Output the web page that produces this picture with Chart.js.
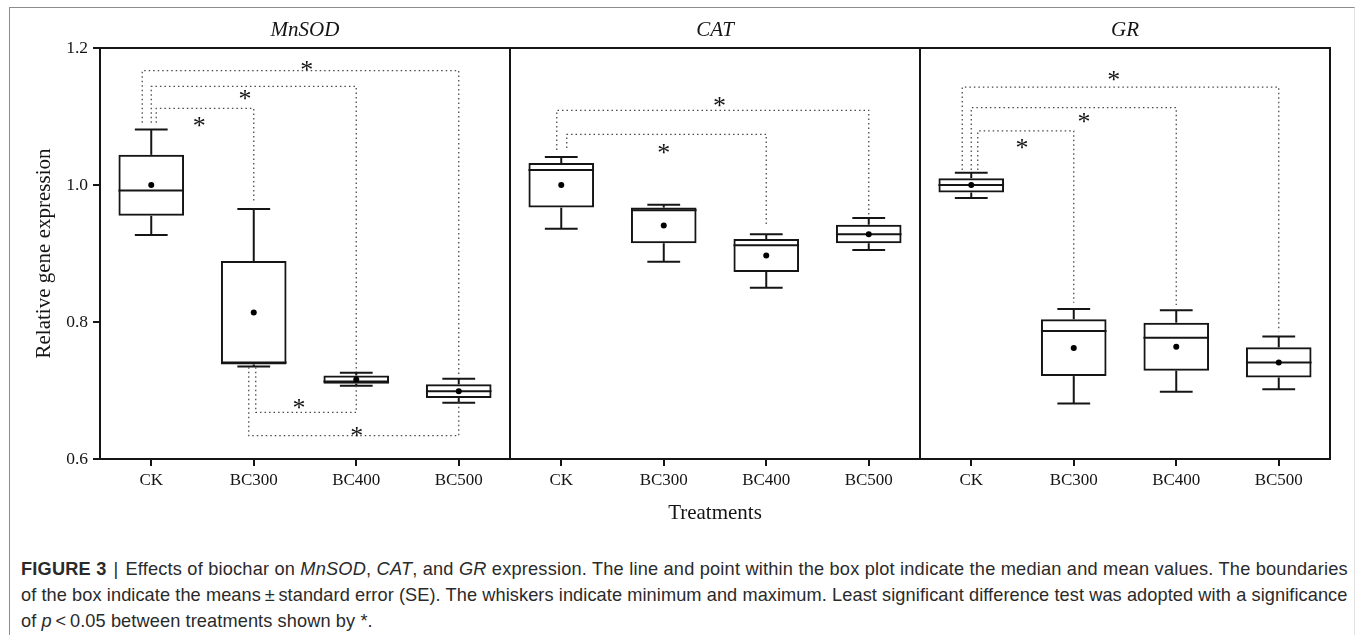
<!DOCTYPE html>
<html>
<head>
<meta charset="utf-8">
<title>Effects of biochar on MnSOD, CAT and GR expression</title>
<script src="https://cdn.jsdelivr.net/npm/chart.js@4.4.1/dist/chart.umd.min.js"></script>
<style>
  html, body { margin: 0; padding: 0; background: #fff; }
  body { width: 1355px; height: 635px; position: relative; overflow: hidden; }
  #frame {
    position: absolute; left: 9px; top: 7px; right: 0; bottom: -5px;
    border-left: 1px solid #8c8c8c; border-top: 1px solid #8c8c8c; border-right: 1px solid #e2e2e2;
  }
  #chart { position: absolute; left: 0; top: 0; }
  #caption {
    position: absolute; left: 21px; top: 556px; white-space: nowrap;
    font-family: "Liberation Sans", Arial, sans-serif; font-size: 18.2px; line-height: 26px; color: #2a2a2a;
  }
  #caption .sep { margin: 0 7px; }
  #caption .l1 { letter-spacing: 0.2px; }
  #caption .l2 { letter-spacing: 0.08px; }
  #caption .l3 { letter-spacing: 0.1px; }
</style>
</head>
<body>
<div id="frame"></div>
<canvas id="chart" width="1355" height="540"></canvas>
<div id="caption"><span class="l1"><b>FIGURE 3</b><span class="sep">|</span>Effects of biochar on <i>MnSOD</i>, <i>CAT</i>, and <i>GR</i> expression. The line and point within the box plot indicate the median and mean values. The boundaries</span><br><span class="l2">of the box indicate the means&#8201;±&#8201;standard error (SE). The whiskers indicate minimum and maximum. Least significant difference test was adopted with a significance</span><br><span class="l3">of <i>p</i>&#8201;&lt;&#8201;0.05 between treatments shown by *.</span></div>

<script>
// Treatments on the x axis and the three genes (one panel each)
const treatments = ['CK', 'BC300', 'BC400', 'BC500'];
const genes = ['MnSOD', 'CAT', 'GR'];

// MnSOD relative expression
const mnsodMin    = [0.927, 0.735, 0.707, 0.682];
const mnsodSeLow  = [0.955, 0.738, 0.710, 0.689];
const mnsodMedian = [0.992, 0.741, 0.713, 0.699];
const mnsodSeHigh = [1.044, 0.889, 0.722, 0.709];
const mnsodMax    = [1.081, 0.965, 0.726, 0.717];
const mnsodMean   = [1.000, 0.814, 0.716, 0.699];

// CAT relative expression
const catMin    = [0.936, 0.888, 0.850, 0.905];
const catSeLow  = [0.967, 0.915, 0.873, 0.915];
const catMedian = [1.022, 0.963, 0.912, 0.928];
const catSeHigh = [1.032, 0.967, 0.921, 0.942];
const catMax    = [1.041, 0.971, 0.928, 0.952];
const catMean   = [1.000, 0.941, 0.897, 0.928];

// GR relative expression
const grMin    = [0.981, 0.681, 0.698, 0.702];
const grSeLow  = [0.989, 0.721, 0.729, 0.719];
const grMedian = [1.000, 0.787, 0.777, 0.741];
const grSeHigh = [1.010, 0.804, 0.799, 0.763];
const grMax    = [1.018, 0.819, 0.817, 0.779];
const grMean   = [1.000, 0.762, 0.764, 0.741];

// y axis ticks
const yTicks = [0.6, 0.8, 1.0, 1.2];

// Significance brackets (LSD, p < 0.05), indices on the 12-slot axis:
// [from, to, bracket level, leg end at "from", leg end at "to"]
const mnsodPairs = [[0, 3, 1.167, 1.091, 0.720], [0, 2, 1.144, 1.091, 0.727], [0, 1, 1.112, 1.091, 0.976],
                    [1, 2, 0.668, 0.734, 0.707], [1, 3, 0.634, 0.734, 0.683]];
const catPairs   = [[4, 7, 1.109, 1.051, 0.954], [4, 6, 1.074, 1.054, 0.943]];
const grPairs    = [[8, 11, 1.143, 1.022, 0.786], [8, 10, 1.113, 1.022, 0.825], [8, 9, 1.079, 1.022, 0.828]];

// Asterisk marks: [axis position, value]
const mnsodStars = [[1.517, 1.175], [0.915, 1.133], [0.469, 1.094], [1.441, 0.682], [2.004, 0.641]];
const catStars   = [[5.545, 1.123], [5.000, 1.054]];
const grStars    = [[9.390, 1.160], [9.100, 1.100], [8.495, 1.062]];

// ---- drawing style ----
const INK = '#151515';
const SERIF = '"Liberation Serif", "Times New Roman", serif';
// horizontal nudge (px) of the left leg of each bracket so nested legs do not overlap
const legShift = [-9, 0, 5, 2, -5, -4.5, 5.5, -9, 0, 6.5];

// ---- assemble the 12-slot series ----
const join = (a, b, c) => a.concat(b, c);
const labels = genes.flatMap(() => treatments);
const lowAll = join(mnsodMin, catMin, grMin);
const seLowAll = join(mnsodSeLow, catSeLow, grSeLow);
const medAll = join(mnsodMedian, catMedian, grMedian);
const seHighAll = join(mnsodSeHigh, catSeHigh, grSeHigh);
const highAll = join(mnsodMax, catMax, grMax);
const meanAll = join(mnsodMean, catMean, grMean);
const pairsAll = join(mnsodPairs, catPairs, grPairs);
const starsAll = join(mnsodStars, catStars, grStars);

function line(ctx, x1, y1, x2, y2) {
  ctx.beginPath(); ctx.moveTo(x1, y1); ctx.lineTo(x2, y2); ctx.stroke();
}

const boxPlotExtras = {
  id: 'boxPlotExtras',
  beforeDatasetsDraw(chart) {
    const { ctx, chartArea: a, scales: { x, y } } = chart;
    const boxes = chart.getDatasetMeta(0).data;
    ctx.save();
    ctx.strokeStyle = INK;
    ctx.lineWidth = 2;
    ctx.lineCap = 'butt';

    // frame: top edge, right edge and panel dividers
    line(ctx, a.left - 1, a.top, a.right + 1, a.top);
    line(ctx, a.right, a.top, a.right, a.bottom);
    for (let k = 1; k < genes.length; k++) {
      const xd = (x.getPixelForValue(4 * k - 1) + x.getPixelForValue(4 * k)) / 2;
      line(ctx, xd, a.top, xd, a.bottom);
    }

    // whiskers, caps and medians
    labels.forEach((_, i) => {
      const cx = x.getPixelForValue(i);
      const half = boxes[i].width / 2;
      const cap = half * 0.5;
      const yMin = y.getPixelForValue(lowAll[i]);
      const yMax = y.getPixelForValue(highAll[i]);
      const yLo = y.getPixelForValue(seLowAll[i]);
      const yHi = y.getPixelForValue(seHighAll[i]);
      line(ctx, cx, yHi, cx, yMax);
      line(ctx, cx, yLo, cx, yMin);
      line(ctx, cx - cap, yMax, cx + cap, yMax);
      line(ctx, cx - cap, yMin, cx + cap, yMin);
      const ym = y.getPixelForValue(medAll[i]);
      line(ctx, cx - half, ym, cx + half, ym);
    });

    // significance brackets
    ctx.strokeStyle = '#4a4a4a';
    ctx.lineWidth = 1.3;
    ctx.setLineDash([1.5, 3]);
    pairsAll.forEach(([from, to, level, endFrom, endTo], j) => {
      const x1 = x.getPixelForValue(from) + legShift[j];
      const x2 = x.getPixelForValue(to);
      const yl = y.getPixelForValue(level);
      ctx.beginPath();
      ctx.moveTo(x1, y.getPixelForValue(endFrom));
      ctx.lineTo(x1, yl);
      ctx.lineTo(x2, yl);
      ctx.lineTo(x2, y.getPixelForValue(endTo));
      ctx.stroke();
    });
    ctx.setLineDash([]);

    // asterisks
    ctx.fillStyle = INK;
    ctx.font = '26px ' + SERIF;
    ctx.textAlign = 'center';
    ctx.textBaseline = 'alphabetic';
    const step = x.getPixelForValue(1) - x.getPixelForValue(0);
    starsAll.forEach(([sx, sv]) => {
      const px = x.getPixelForValue(0) + sx * step;
      ctx.fillText('*', px, y.getPixelForValue(sv) + 13);
    });

    // gene names above each panel
    ctx.font = 'italic 21px ' + SERIF;
    ctx.textBaseline = 'middle';
    genes.forEach((g, k) => {
      const cx = (x.getPixelForValue(4 * k) + x.getPixelForValue(4 * k + 3)) / 2;
      ctx.fillText(g, cx, 30);
    });
    ctx.restore();
  }
};

new Chart(document.getElementById('chart'), {
  type: 'bar',
  data: {
    labels: labels,
    datasets: [
      {
        type: 'bar',
        label: 'mean ± SE',
        data: seLowAll.map((v, i) => [v, seHighAll[i]]),
        backgroundColor: 'rgba(255,255,255,0)',
        borderColor: INK,
        borderWidth: 2,
        borderSkipped: false,
        barPercentage: 0.64,
        categoryPercentage: 1,
        order: 2
      },
      {
        type: 'line',
        label: 'mean',
        data: meanAll,
        showLine: false,
        pointRadius: 3,
        pointBackgroundColor: '#000',
        pointBorderWidth: 0,
        order: 1
      }
    ]
  },
  options: {
    responsive: false,
    animation: false,
    devicePixelRatio: 1,
    layout: { padding: { top: 48, right: 25, left: 0, bottom: 0 } },
    plugins: { legend: { display: false }, tooltip: { enabled: false } },
    scales: {
      x: {
        offset: true,
        grid: { offset: false, drawOnChartArea: false, drawTicks: true, tickLength: 7, color: INK, lineWidth: 2 },
        border: { display: true, color: INK, width: 2 },
        ticks: { font: { family: SERIF, size: 17 }, color: INK, padding: 4, maxRotation: 0, autoSkip: false },
        title: { display: true, text: 'Treatments', font: { family: SERIF, size: 21 }, color: INK, padding: { top: 0, bottom: 14 } },
        afterFit(s) { s.height = 81; }
      },
      y: {
        min: 0.6,
        max: 1.2,
        afterBuildTicks(s) { s.ticks = yTicks.map(v => ({ value: v })); },
        ticks: { font: { family: SERIF, size: 17.5 }, color: INK, padding: 5, callback: v => Number(v).toFixed(1) },
        grid: { drawOnChartArea: false, drawTicks: true, tickLength: 7, color: INK, lineWidth: 2 },
        border: { display: true, color: INK, width: 2 },
        title: { display: true, text: 'Relative gene expression', font: { family: SERIF, size: 21 }, color: INK, padding: { top: 32, bottom: 0 } },
        afterFit(s) { s.width = 100; }
      }
    }
  },
  plugins: [boxPlotExtras]
});
</script>
</body>
</html>
